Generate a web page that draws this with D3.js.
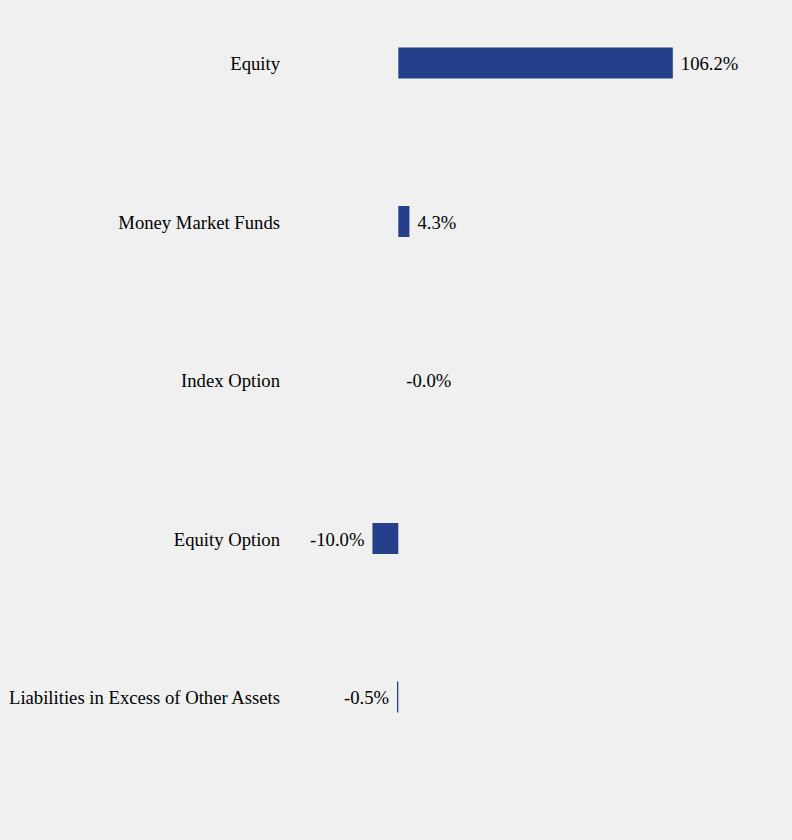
<!DOCTYPE html>
<html>
<head>
<meta charset="utf-8">
<script src="https://cdn.jsdelivr.net/npm/d3@7"></script>
<style>
  html, body { margin: 0; padding: 0; background: #f0f0f0; }
  svg { display: block; }
  text { font-family: "Liberation Serif", "Times New Roman", serif; fill: #000; }
</style>
</head>
<body>
<svg id="chart" width="792" height="840"></svg>
<script>
const categories = ["Equity", "Money Market Funds", "Index Option", "Equity Option", "Liabilities in Excess of Other Assets"];
const values = [106.2, 4.3, -0.004, -10.0, -0.5];

const svg = d3.select("#chart");
const W = 792, H = 840;
svg.append("rect").attr("width", W).attr("height", H).attr("fill", "#f0f0f0");

const x = d3.scaleLinear().domain([0, 100]).range([398.3, 656.8]);
const y = d3.scalePoint().domain(categories).range([63, 697]);
const barH = 31;
const fontSize = 18.67;

const data = categories.map((c, i) => ({ c, v: values[i] }));

const g = svg.append("g");

g.selectAll("rect.bar").data(data).enter().append("rect")
  .attr("class", "bar")
  .attr("x", d => Math.min(x(0), x(d.v)))
  .attr("y", d => y(d.c) - barH / 2)
  .attr("width", d => Math.abs(x(d.v) - x(0)))
  .attr("height", barH)
  .attr("fill", "#263f8b");

g.selectAll("text.cat").data(data).enter().append("text")
  .attr("class", "cat")
  .attr("x", 280)
  .attr("y", d => y(d.c))
  .attr("dy", "0.38em")
  .attr("text-anchor", "end")
  .attr("font-size", fontSize)
  .text(d => d.c);

const isNeg = v => Math.round(v * 10) < 0;
g.selectAll("text.val").data(data).enter().append("text")
  .attr("class", "val")
  .attr("x", d => isNeg(d.v) ? Math.min(x(0), x(d.v)) - 8 : Math.max(x(0), x(d.v)) + 8)
  .attr("y", d => y(d.c))
  .attr("dy", "0.38em")
  .attr("text-anchor", d => isNeg(d.v) ? "end" : "start")
  .attr("font-size", fontSize)
  .text(d => d.v.toFixed(1) + "%");
</script>
</body>
</html>
